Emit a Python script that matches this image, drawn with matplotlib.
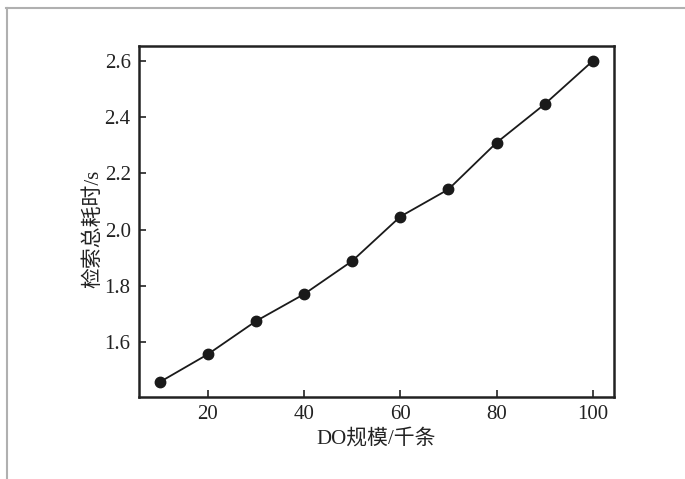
import matplotlib
matplotlib.use("Agg")
import matplotlib.pyplot as plt
from matplotlib.lines import Line2D

x_vals = [10, 20, 30, 40, 50, 60, 70, 80, 90, 100]
y_vals = [1.457, 1.556, 1.674, 1.770, 1.888, 2.046, 2.143, 2.309, 2.446, 2.600]
x_ticks = [20, 40, 60, 80, 100]
y_ticks = [1.6, 1.8, 2.0, 2.2, 2.4, 2.6]

fams = ['Liberation Serif', 'Noto Sans CJK SC', 'DejaVu Sans']
plt.rcParams['font.family'] = fams

W, H = 685, 479
fig = plt.figure(figsize=(W/100, H/100), dpi=100)
ax = fig.add_axes([139/W, 1-397/H, (614-139)/W, (397-46)/H])

ax.plot(x_vals, y_vals, color='#1a1a1a', lw=1.3, marker='o', ms=7.5,
        markerfacecolor='#1a1a1a', markeredgecolor='#1a1a1a')
ax.set_xlim(5.7, 104.4)
ax.set_ylim(1.404, 2.653)
ax.set_xticks(x_ticks)
ax.set_xticklabels([str(v) for v in x_ticks])
ax.set_yticks(y_ticks)
ax.set_yticklabels([f"{v:.1f}" for v in y_ticks])
ax.tick_params(direction='in', length=5, width=1.2, labelsize=15, colors='#222222', pad=6)
for s in ax.spines.values():
    s.set_linewidth(1.8)
    s.set_color('#222222')
ax.set_xlabel('DO规模/千条', fontsize=15, color='#222222', labelpad=3)
ax.set_ylabel('检索总耗时/s', fontsize=15, color='#222222')
ax.yaxis.set_label_coords(-0.076, 0.48)

fig.add_artist(Line2D([6/W, 1], [1-8/H, 1-8/H], color='#b0b0b0', lw=1.5, transform=fig.transFigure))
fig.add_artist(Line2D([7/W, 7/W], [1-8/H, 0], color='#b0b0b0', lw=1.5, transform=fig.transFigure))

fig.savefig('out.png', dpi=100)
